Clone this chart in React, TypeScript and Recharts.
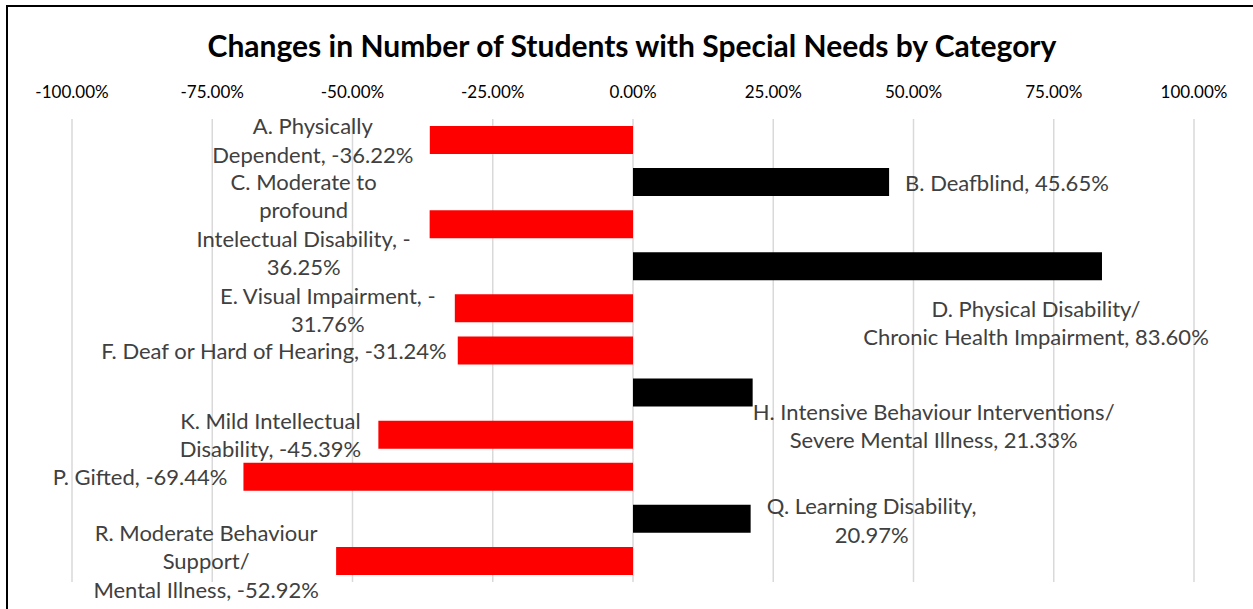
import { Bar, BarChart, CartesianGrid, Cell, LabelList, XAxis, YAxis } from 'recharts'

const categories = ['A', 'B', 'C', 'D', 'E', 'F', 'H', 'K', 'P', 'Q', 'R']
const changes = [-36.22, 45.65, -36.25, 83.6, -31.76, -31.24, 21.33, -45.39, -69.44, 20.97, -52.92]
const labelLines = [
  ['A. Physically', 'Dependent, -36.22%'],
  ['B. Deafblind, 45.65%'],
  ['C. Moderate to', 'profound', 'Intelectual Disability, -', '36.25%'],
  ['D. Physical Disability/', 'Chronic Health Impairment, 83.60%'],
  ['E. Visual Impairment, -', '31.76%'],
  ['F. Deaf or Hard of Hearing, -31.24%'],
  ['H. Intensive Behaviour Interventions/', 'Severe Mental Illness, 21.33%'],
  ['K. Mild Intellectual', 'Disability, -45.39%'],
  ['P. Gifted, -69.44%'],
  ['Q. Learning Disability,', '20.97%'],
  ['R. Moderate Behaviour', 'Support/', 'Mental Illness, -52.92%'],
]
const ticks = [-100, -75, -50, -25, 0, 25, 50, 75, 100]

// where Excel had the data labels dragged to, relative to the bar's end
const labelPlacement: { anchor: 'start' | 'middle' | 'end'; dx: number; dy: number }[] = [
  { anchor: 'middle', dx: -117, dy: 0 },
  { anchor: 'start', dx: 16, dy: 0 },
  { anchor: 'middle', dx: -126, dy: 0 },
  { anchor: 'middle', dx: -66, dy: 56 },
  { anchor: 'middle', dx: -127, dy: 1 },
  { anchor: 'end', dx: -11, dy: 0 },
  { anchor: 'middle', dx: 181, dy: 33 },
  { anchor: 'middle', dx: -108, dy: 0 },
  { anchor: 'end', dx: -16, dy: 0 },
  { anchor: 'middle', dx: 121, dy: 1 },
  { anchor: 'middle', dx: -130, dy: 0 },
]

const data = categories.map((name, i) => ({ name, value: changes[i] }))

const FONT = 'Lato, "Liberation Sans", sans-serif'
const LINE = 28.5

function BarLabel(props: any) {
  const { x, y, width, height, index } = props
  const lines = labelLines[index]
  const place = labelPlacement[index]
  const endX = Number(x) + Number(width)
  const cy = Number(y) + Number(height) / 2 + place.dy
  const top = cy - ((lines.length - 1) * LINE) / 2
  return (
    <text
      x={endX + place.dx}
      textAnchor={place.anchor}
      fill="#404040"
      fontSize={22}
      fontFamily={FONT}
    >
      {lines.map((line, i) => (
        <tspan key={i} x={endX + place.dx} y={top + i * LINE} dominantBaseline="central">
          {line}
        </tspan>
      ))}
    </text>
  )
}

function TopTick(props: any) {
  const { x, y, payload } = props
  return (
    <text
      x={x}
      y={y - 20}
      textAnchor="middle"
      dominantBaseline="central"
      fill="#000"
      fontSize={17}
      fontFamily={FONT}
    >
      {`${payload.value.toFixed(2)}%`}
    </text>
  )
}

export default function App() {
  return (
    <div style={{ position: 'absolute', left: 0, top: 0, width: 1253, height: 609, background: '#fff', overflow: 'hidden' }}>
      <div
        style={{
          position: 'absolute',
          left: 6,
          top: 5,
          right: -10,
          bottom: -10,
          borderLeft: '2px solid #000',
          borderTop: '2px solid #000',
        }}
      />
      <div
        style={{
          position: 'absolute',
          left: 0,
          width: 1264,
          top: 25,
          lineHeight: '40px',
          textAlign: 'center',
          fontFamily: FONT,
          fontWeight: 'bold',
          fontSize: 30,
          color: '#000',
        }}
      >
        Changes in Number of Students with Special Needs by Category
      </div>
      <BarChart
        width={1253}
        height={609}
        layout="vertical"
        data={data}
        margin={{ top: 89, right: 59, bottom: 27, left: 72 }}
      >
        <CartesianGrid horizontal={false} stroke="#d9d9d9" strokeWidth={1.5} />
        <XAxis
          type="number"
          orientation="top"
          domain={[-100, 100]}
          ticks={ticks}
          height={30}
          axisLine={false}
          tickLine={false}
          tick={<TopTick />}
        />
        <YAxis type="category" dataKey="name" hide width={0} />
        <Bar dataKey="value" barSize={28} isAnimationActive={false}>
          {data.map((d, i) => (
            <Cell key={i} fill={d.value < 0 ? '#ff0000' : '#000000'} />
          ))}
          <LabelList dataKey="value" content={<BarLabel />} />
        </Bar>
      </BarChart>
    </div>
  )
}
